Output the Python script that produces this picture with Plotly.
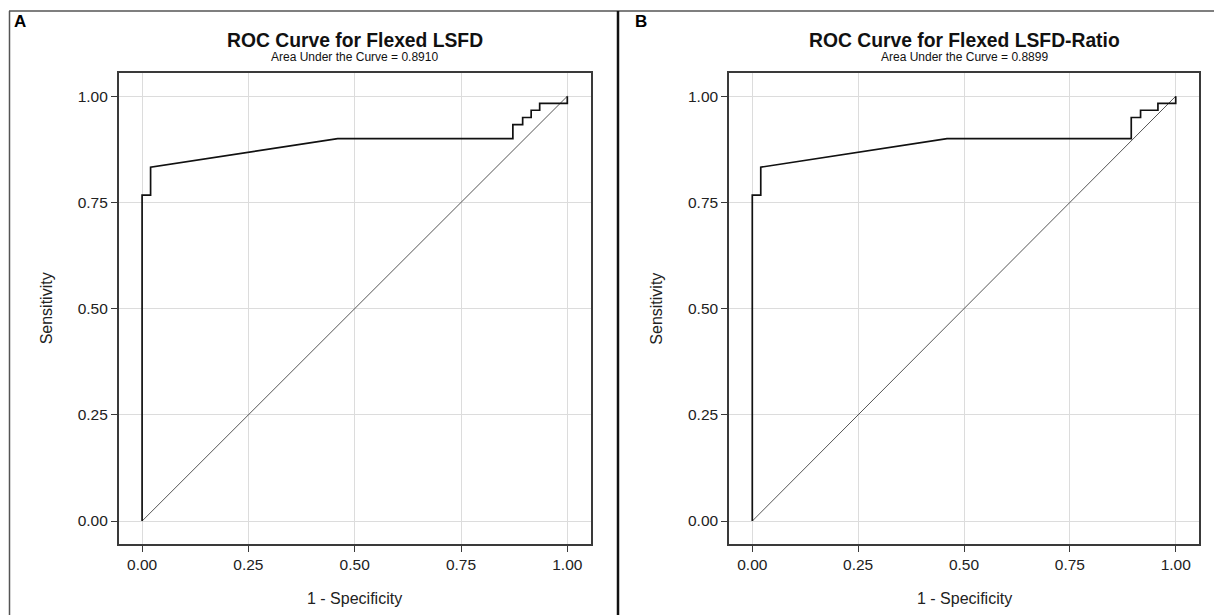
import plotly.graph_objects as go

# Panel A ROC curve (1 - specificity, sensitivity)
fpr_a = [0.0, 0.0, 0.02, 0.02, 0.46, 0.872, 0.872, 0.895, 0.895, 0.915, 0.915, 0.935, 0.935, 1.0, 1.0]
tpr_a = [0.0, 0.767, 0.767, 0.833, 0.9, 0.9, 0.933, 0.933, 0.95, 0.95, 0.967, 0.967, 0.983, 0.983, 1.0]
# Panel B ROC curve
fpr_b = [0.0, 0.0, 0.02, 0.02, 0.46, 0.895, 0.895, 0.917, 0.917, 0.958, 0.958, 1.0, 1.0]
tpr_b = [0.0, 0.767, 0.767, 0.833, 0.9, 0.9, 0.95, 0.95, 0.967, 0.967, 0.983, 0.983, 1.0]
ref_line = [0.0, 1.0]

tick_vals = [0.0, 0.25, 0.5, 0.75, 1.0]
tick_text = ["0.00", "0.25", "0.50", "0.75", "1.00"]

titles = ["ROC Curve for Flexed LSFD", "ROC Curve for Flexed LSFD-Ratio"]
subtitles = ["Area Under the Curve = 0.8910", "Area Under the Curve = 0.8899"]
panel_labels = ["A", "B"]
x_title = "1 - Specificity"
y_title = "Sensitivity"

W, H = 1214, 615
FONT = "Arial, Liberation Sans, sans-serif"

fig = go.Figure()

x_doms = [(118.7, 590.7), (729.0, 1199.0)]
y_top, y_bot = 73.3, 544.0


def px2x(p):
    return p / W


def py2y(p):
    return 1 - p / H


for i, (fx, ty) in enumerate([(fpr_a, tpr_a), (fpr_b, tpr_b)]):
    xa = "x" if i == 0 else "x2"
    ya = "y" if i == 0 else "y2"
    fig.add_trace(go.Scatter(x=ref_line, y=ref_line, mode="lines", xaxis=xa, yaxis=ya,
                             line=dict(color="#555555", width=1), showlegend=False, hoverinfo="skip"))
    fig.add_trace(go.Scatter(x=fx, y=ty, mode="lines", xaxis=xa, yaxis=ya,
                             line=dict(color="#111111", width=1.7), showlegend=False))

axis_common = dict(
    tickvals=tick_vals, ticktext=tick_text,
    showgrid=True, gridcolor="#dcdcdc", gridwidth=1, zeroline=False,
    showline=True, linecolor="#3a3a3a", linewidth=1.5, mirror=True,
    ticks="outside", ticklen=6, tickcolor="#3a3a3a",
    tickfont=dict(family=FONT, size=15.5, color="#222"), fixedrange=True,
)

for i in range(2):
    xd = [px2x(x_doms[i][0]), px2x(x_doms[i][1])]
    yd = [py2y(y_bot), py2y(y_top)]
    xkey = "xaxis" if i == 0 else "xaxis2"
    ykey = "yaxis" if i == 0 else "yaxis2"
    anchor_y = "y" if i == 0 else "y2"
    anchor_x = "x" if i == 0 else "x2"
    fig.update_layout(**{
        xkey: dict(domain=xd, anchor=anchor_y, range=[-0.055, 1.055], **axis_common),
        ykey: dict(domain=yd, anchor=anchor_x, range=[-0.054, 1.054], **axis_common),
    })
    cx = px2x((x_doms[i][0] + x_doms[i][1]) / 2)
    fig.add_annotation(x=cx, y=py2y(40), xref="paper", yref="paper", text="<b>" + titles[i] + "</b>",
                       showarrow=False, xanchor="center", yanchor="middle",
                       font=dict(family=FONT, size=19.3, color="#111"))
    fig.add_annotation(x=cx, y=py2y(57), xref="paper", yref="paper", text=subtitles[i],
                       showarrow=False, xanchor="center", yanchor="middle",
                       font=dict(family=FONT, size=12, color="#111"))
    fig.add_annotation(x=cx, y=py2y(598), xref="paper", yref="paper", text=x_title,
                       showarrow=False, xanchor="center", yanchor="middle",
                       font=dict(family=FONT, size=16, color="#222"))
    fig.add_annotation(x=px2x(x_doms[i][0] - 72), y=py2y((y_top + y_bot) / 2), xref="paper", yref="paper",
                       text=y_title, textangle=-90, showarrow=False, xanchor="center", yanchor="middle",
                       font=dict(family=FONT, size=16, color="#222"))

fig.add_annotation(x=px2x(12), y=py2y(21), xref="paper", yref="paper", text="<b>A</b>",
                   showarrow=False, xanchor="left", yanchor="middle", font=dict(family=FONT, size=17, color="#000"))
fig.add_annotation(x=px2x(633), y=py2y(21), xref="paper", yref="paper", text="<b>B</b>",
                   showarrow=False, xanchor="left", yanchor="middle", font=dict(family=FONT, size=17, color="#000"))

# outer border and divider
fig.add_shape(type="line", xref="paper", yref="paper", x0=px2x(9), x1=1, y0=py2y(11), y1=py2y(11),
              line=dict(color="#555", width=1.5))
fig.add_shape(type="line", xref="paper", yref="paper", x0=px2x(9.5), x1=px2x(9.5), y0=py2y(11), y1=0,
              line=dict(color="#555", width=1.5))
fig.add_shape(type="line", xref="paper", yref="paper", x0=px2x(618), x1=px2x(618), y0=py2y(11), y1=0,
              line=dict(color="#111", width=2.5))

fig.update_layout(width=W, height=H, margin=dict(l=0, r=0, t=0, b=0),
                  paper_bgcolor="white", plot_bgcolor="white", showlegend=False)

fig.write_html("out.html", config={"displayModeBar": False},
               post_script="document.body.style.margin='0';document.body.style.overflow='hidden';")
